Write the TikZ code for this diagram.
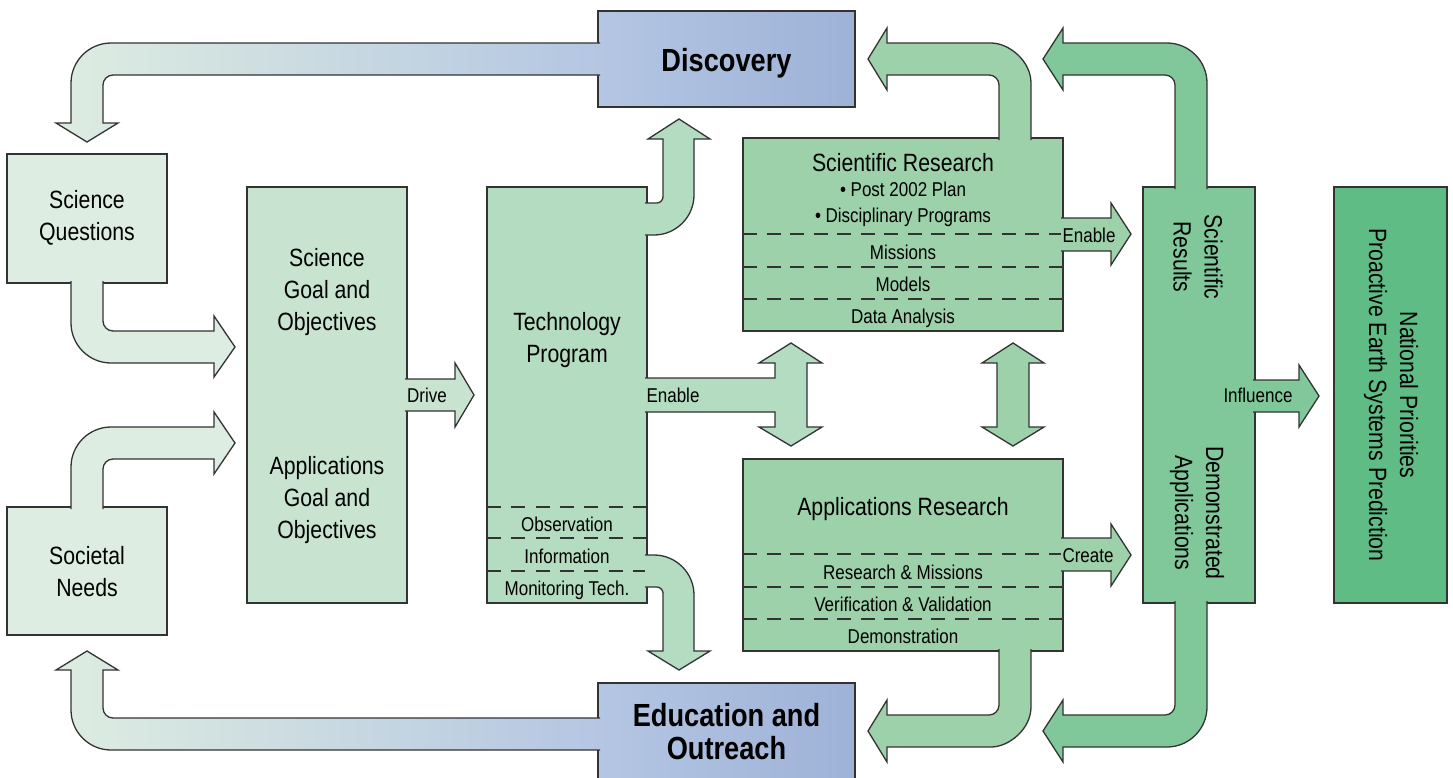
\documentclass[tikz,border=0pt]{standalone}
\usepackage{fontspec}
\setmainfont{Liberation Sans}[FakeStretch=0.85]

\definecolor{linegray}{HTML}{333333}
\definecolor{palegreen}{HTML}{DEEDE1}
\definecolor{goalgreen}{HTML}{C8E4D0}
\definecolor{techgreen}{HTML}{B4DCC0}
\definecolor{resgreen}{HTML}{9DD1AA}
\definecolor{outgreen}{HTML}{80C89A}
\definecolor{natgreen}{HTML}{5EBC84}
\definecolor{bluelight}{HTML}{B4C6E2}
\definecolor{bluedark}{HTML}{9EB2D8}

\tikzset{
  box/.style={draw=linegray, line width=1.3pt, inner sep=0pt},
  fat/.style={draw=linegray, line width=1.3pt, line join=miter},
  divider/.style={draw=linegray, line width=1.2pt, dash pattern=on 14pt off 9.54pt},
  shortdivider/.style={draw=linegray, line width=1.2pt, dash pattern=on 14pt off 10.33pt},
  bigtxt/.style={font=\fontsize{25}{32}\selectfont, align=center, anchor=base, inner sep=0pt},
  smalltxt/.style={font=\fontsize{20}{26}\selectfont, anchor=base, inner sep=0pt},
  boldtxt/.style={font=\fontsize{32}{33}\selectfont\bfseries, align=center, anchor=base, inner sep=0pt},
  sidetxt/.style={font=\fontsize{25}{31}\selectfont, align=center, rotate=-90},
}

\begin{document}
\begin{tikzpicture}[x=1pt, y=-1pt]
   \path[use as bounding box, fill=white] (0,0) rectangle (1453,777);

   % boxes
   \node[box, fill=palegreen, minimum width=160, minimum height=129] (sq) at (87,218.5) {};
   \node[box, fill=palegreen, minimum width=160, minimum height=128] (sn) at (87,571) {};
   \node[box, fill=goalgreen, minimum width=160, minimum height=416] (goal) at (327,395) {};
   \node[box, fill=techgreen, minimum width=160, minimum height=416] (tech) at (567,395) {};
   \node[box, left color=bluelight, right color=bluedark, minimum width=257, minimum height=96] (disc) at (726.5,59) {};
   \node[box, left color=bluelight, right color=bluedark, minimum width=257, minimum height=96] (edu) at (726.5,731) {};
   \node[box, fill=resgreen, minimum width=320, minimum height=193] (sr) at (903,234.5) {};
   \node[box, fill=resgreen, minimum width=320, minimum height=192] (ar) at (903,555) {};
   \node[box, fill=outgreen, minimum width=112, minimum height=416] (res) at (1199,395) {};
   \node[box, fill=natgreen, minimum width=113, minimum height=416] (nat) at (1390.5,395) {};

   % dashed rows
   \draw[shortdivider] (487,507) -- (647,507);
   \draw[shortdivider] (487,538) -- (647,538);
   \draw[shortdivider] (487,571) -- (647,571);
   \draw[divider] (743,234) -- (1063,234);
   \draw[divider] (743,267) -- (1063,267);
   \draw[divider] (743,299) -- (1063,299);
   \draw[divider] (743,554) -- (1063,554);
   \draw[divider] (743,587) -- (1063,587);
   \draw[divider] (743,619) -- (1063,619);

   % fat arrows
   \path[fat, left color=palegreen, right color=bluelight] (600,75) -- (113,75) .. controls (107.5,75) and (103,79.5) .. (103,85) -- (103,123) -- (118,123) -- (87,142) -- (56,123) -- (71,123) -- (71,83) .. controls (71,61) and (89,43) .. (111,43) -- (600,43);
   \path[fat, left color=palegreen, right color=bluelight] (600,718) -- (113,718) .. controls (107.5,718) and (103,713.5) .. (103,708) -- (103,670) -- (118,670) -- (87,651) -- (56,670) -- (71,670) -- (71,710) .. controls (71,732) and (89,750) .. (111,750) -- (600,750);
   \path[fat, fill=palegreen] (103,281) -- (103,321) .. controls (103,326.5) and (107.5,331) .. (113,331) -- (214,331) -- (214,316) -- (235,347) -- (214,377) -- (214,363) -- (111,363) .. controls (89,363) and (71,345) .. (71,323) -- (71,281);
   \path[fat, fill=palegreen] (103,509) -- (103,469) .. controls (103,463.5) and (107.5,459) .. (113,459) -- (214,459) -- (214,474) -- (235,443) -- (214,412) -- (214,427) -- (111,427) .. controls (89,427) and (71,445) .. (71,467) -- (71,509);
   \path[fat, fill=goalgreen] (405,379) -- (455,379) -- (455,363) -- (474,395) -- (455,427) -- (455,411) -- (405,411);
   \path[fat, fill=techgreen] (645,203) -- (657,203) .. controls (660.3,203) and (663,199.7) .. (663,197) -- (663,139) -- (648,139) -- (679,119) -- (710,139) -- (694,139) -- (694,195) .. controls (694,217) and (676,235) .. (654,235) -- (645,235);
   \path[fat, fill=techgreen] (645,587) -- (657,587) .. controls (660.3,587) and (663,590.3) .. (663,593) -- (663,651) -- (648,651) -- (679,670) -- (710,651) -- (694,651) -- (694,595) .. controls (694,573) and (676,555) .. (654,555) -- (645,555);
   \path[fat, fill=techgreen] (645,378) -- (775,378) -- (775,363) -- (759,363) -- (791,343) -- (822,363) -- (807,363) -- (807,427) -- (822,427) -- (791,446) -- (759,427) -- (775,427) -- (775,412) -- (645,412);
   \path[fat, fill=resgreen] (997,363) -- (982,363) -- (1013,343) -- (1044,363) -- (1029,363) -- (1029,427) -- (1044,427) -- (1013,446) -- (982,427) -- (997,427) -- cycle;
   \path[fat, fill=resgreen] (999,140) -- (999,85) .. controls (999,79.5) and (994.5,75) .. (989,75) -- (887,75) -- (887,90) -- (868,59) -- (887,28) -- (887,43) -- (991,43) .. controls (1009,43) and (1031,61) .. (1031,83) -- (1031,140);
   \path[fat, fill=resgreen] (999,649) -- (999,705) .. controls (999,710.5) and (994.5,715) .. (989,715) -- (887,715) -- (887,700) -- (868,731) -- (887,762) -- (887,747) -- (991,747) .. controls (1009,747) and (1031,729) .. (1031,707) -- (1031,649);
   \path[fat, fill=resgreen] (1061,218) -- (1111,218) -- (1111,203) -- (1131,234) -- (1111,265) -- (1111,251) -- (1061,251);
   \path[fat, fill=resgreen] (1061,538) -- (1111,538) -- (1111,524) -- (1131,555) -- (1111,586) -- (1111,571) -- (1061,571);
   \path[fat, fill=outgreen] (1175,189) -- (1175,85) .. controls (1175,79.5) and (1170.5,75) .. (1165,75) -- (1063,75) -- (1063,90) -- (1043,59) -- (1063,28) -- (1063,43) -- (1167,43) .. controls (1189,43) and (1207,61) .. (1207,83) -- (1207,189);
   \path[fat, fill=outgreen] (1175,601) -- (1175,705) .. controls (1175,710.5) and (1170.5,715) .. (1165,715) -- (1063,715) -- (1063,700) -- (1043,731) -- (1063,762) -- (1063,747) -- (1167,747) .. controls (1189,747) and (1207,729) .. (1207,707) -- (1207,601);
   \path[fat, fill=outgreen] (1253,380) -- (1299,380) -- (1299,365) -- (1319,396) -- (1299,427) -- (1299,412) -- (1253,412);

   % texts (base = last line)
   \node[bigtxt] (sqtxt) at (87,240) {Science\\Questions};
   \node[bigtxt] (sntxt) at (87,596) {Societal\\Needs};
   \node[bigtxt] (goalsci) at (327,330) {Science\\Goal and\\Objectives};
   \node[bigtxt] (goalapp) at (327,538) {Applications\\Goal and\\Objectives};
   \node[bigtxt] (techtxt) at (567,362) {Technology\\Program};
   \node[smalltxt] (obs) at (567,531) {Observation};
   \node[smalltxt] (info) at (567,563) {Information};
   \node[smalltxt] (mon) at (567,595) {Monitoring Tech.};
   \node[boldtxt] (disctxt) at (726.5,71) {Discovery};
   \node[boldtxt] (edutxt) at (726.5,759) {Education and\\Outreach};
   \node[bigtxt] (srtxt) at (903,171) {Scientific Research};
   \node[smalltxt] (plan) at (903,196) {\textbullet\ Post 2002 Plan};
   \node[smalltxt] (disc2) at (903,222) {\textbullet\ Disciplinary Programs};
   \node[smalltxt] (mis) at (903,259) {Missions};
   \node[smalltxt] (mod) at (903,291) {Models};
   \node[smalltxt] (dat) at (903,323) {Data Analysis};
   \node[bigtxt] (artxt) at (903,515) {Applications Research};
   \node[smalltxt] (resmis) at (903,579) {Research \& Missions};
   \node[smalltxt] (verval) at (903,611) {Verification \& Validation};
   \node[smalltxt] (demo) at (903,643) {Demonstration};
   \node[smalltxt] (drive) at (427,402) {Drive};
   \node[smalltxt] (enable1) at (673,402) {Enable};
   \node[smalltxt] (enable2) at (1089,242) {Enable};
   \node[smalltxt] (create) at (1088,562) {Create};
   \node[smalltxt] (influence) at (1258,402) {Influence};
   \node[sidetxt] (restxt) at (1198,257) {Scientific\\Results};
   \node[sidetxt] (demotxt) at (1197,513) {Demonstrated\\Applications};
   \node[sidetxt] (nattxt) at (1391,395) {National Priorities\\Proactive Earth Systems Prediction};

\end{tikzpicture}
\end{document}
